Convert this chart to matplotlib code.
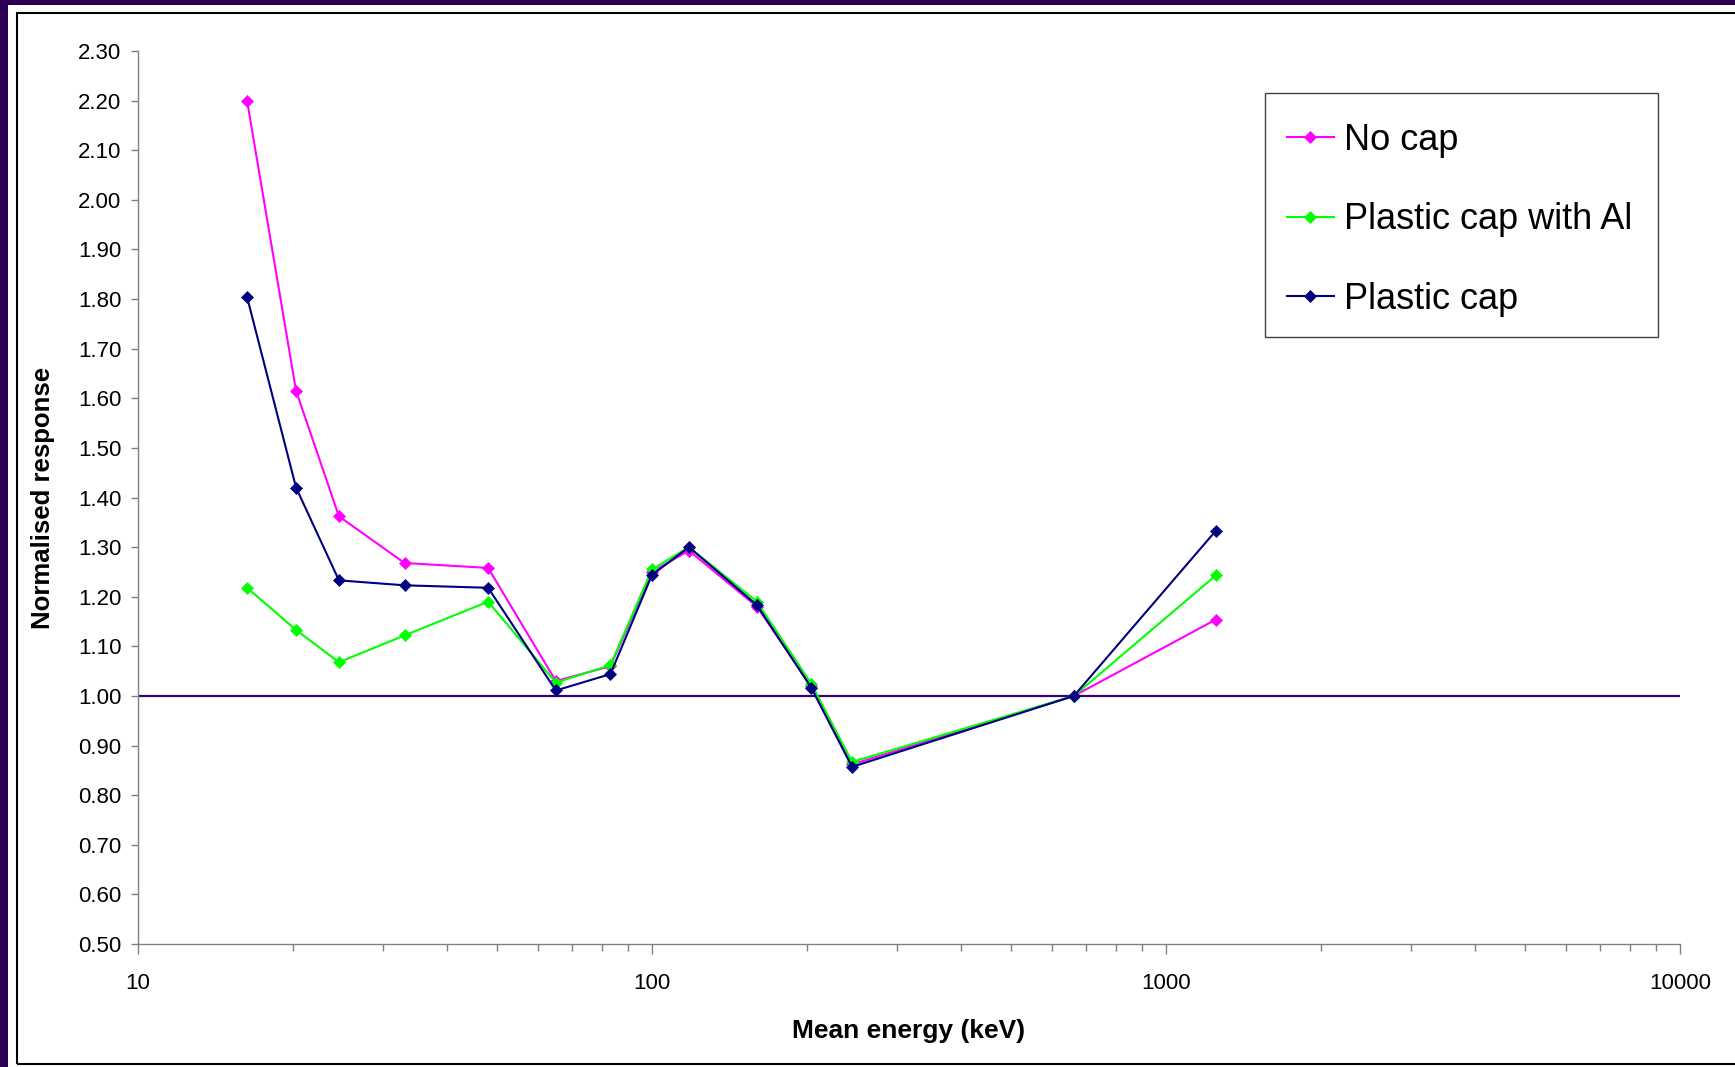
import matplotlib.pyplot as plt
from matplotlib.patches import Rectangle
from matplotlib.ticker import FixedLocator, FormatStrFormatter, LogLocator, NullFormatter

plt.rcParams['font.family'] = ['Liberation Sans', 'DejaVu Sans']

# mean energies (keV) of the beam qualities
energy = [16.3, 20.3, 24.6, 33, 48, 65, 83, 100, 118, 160, 204, 245, 662, 1250]

no_cap = [2.20, 1.615, 1.362, 1.268, 1.258, 1.030, 1.060, 1.250, 1.293, 1.180, 1.020, 0.862, 1.00, 1.154]
cap_al = [1.218, 1.133, 1.068, 1.122, 1.190, 1.027, 1.062, 1.255, 1.300, 1.190, 1.025, 0.867, 1.00, 1.243]
cap = [1.804, 1.420, 1.233, 1.223, 1.218, 1.011, 1.044, 1.244, 1.300, 1.183, 1.017, 0.857, 1.00, 1.333]

series_names = ['No cap', 'Plastic cap with Al', 'Plastic cap']
series_colors = ['#FF00FF', '#00FF00', '#000080']

yticks = [0.5 + 0.1 * i for i in range(19)]
xticks = [10, 100, 1000, 10000]

W, H = 1735, 1067
fig = plt.figure(figsize=(W / 100, H / 100), dpi=100, facecolor='#2E0054')

# white slide area and thin black chart frame
fig.add_artist(Rectangle((8 / W, 0), 1, (H - 5) / H, transform=fig.transFigure,
                         facecolor='white', edgecolor='none', zorder=-2))
fig.add_artist(Rectangle((17 / W, 3 / H), 1, (H - 16) / H, transform=fig.transFigure,
                         facecolor='none', edgecolor='black', lw=1.5, zorder=-1))

ax = fig.add_axes([138 / W, (H - 944) / H, (1680 - 138) / W, (944 - 51) / H])
ax.set_facecolor('none')

ax.axhline(1.0, color='#3A0070', lw=1.6, zorder=1)

for vals, name, col in zip([no_cap, cap_al, cap], series_names, series_colors):
    ax.plot(energy, vals, color=col, lw=1.5, marker='D', ms=6, mew=0.5,
            mec=col, mfc=col, label=name, zorder=3)

ax.set_xscale('log')
ax.set_xlim(10, 10000)
ax.set_ylim(0.5, 2.3)
ax.yaxis.set_major_locator(FixedLocator(yticks))
ax.yaxis.set_major_formatter(FormatStrFormatter('%.2f'))
ax.xaxis.set_major_locator(FixedLocator(xticks))
ax.set_xticklabels([str(v) for v in xticks])
ax.xaxis.set_minor_locator(LogLocator(base=10, subs=range(2, 10)))
ax.xaxis.set_minor_formatter(NullFormatter())

for s in ['top', 'right']:
    ax.spines[s].set_visible(False)
for s in ['left', 'bottom']:
    ax.spines[s].set_color('#808080')
    ax.spines[s].set_linewidth(1.0)

ax.tick_params(axis='y', which='major', length=5, width=1, color='#808080',
               labelsize=16, pad=7)
ax.tick_params(axis='x', which='major', length=7, width=1, color='#808080',
               labelsize=16, pad=14)
ax.tick_params(axis='x', which='minor', length=5, width=1, color='#808080')

ax.set_xlabel('Mean energy (keV)', fontsize=19, fontweight='bold')
ax.set_ylabel('Normalised response', fontsize=18.5, fontweight='bold')
ax.xaxis.set_label_coords(0.5, (944 - 1031) / (944 - 51))
ax.yaxis.set_label_coords((43 - 138) / (1680 - 138), 0.5)
ax.xaxis.label.set_va('center')
ax.yaxis.label.set_va('center')

# legend entries without frame, box drawn separately
leg = ax.legend(loc='upper left', bbox_to_anchor=(1287 / W, (H - 122.5) / H),
                bbox_transform=fig.transFigure, borderaxespad=0, fontsize=26,
                frameon=False, handlelength=1.29, handletextpad=0.3,
                labelspacing=1.24, borderpad=0)
fig.add_artist(Rectangle((1265 / W, (H - 337) / H), 393 / W, 244 / H,
                         transform=fig.transFigure, facecolor='none',
                         edgecolor='#404040', lw=1.0))

fig.savefig('out.png', dpi=100, facecolor=fig.get_facecolor())
